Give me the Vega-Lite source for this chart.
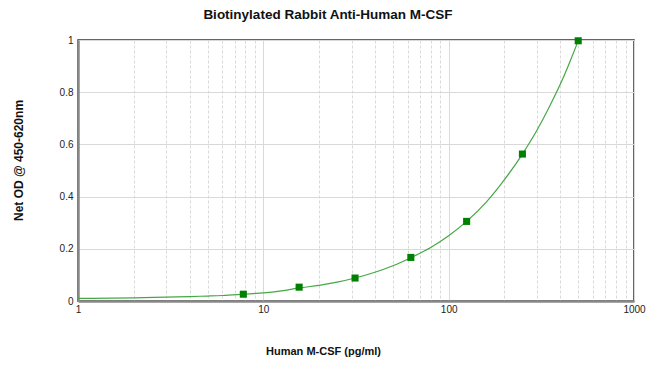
{
  "$schema": "https://vega.github.io/schema/vega-lite/v6.json",
  "autosize": {"type": "none"},
  "padding": {"left": 78, "top": 40, "right": 16, "bottom": 67},
  "width": 556,
  "height": 261,
  "background": "white",
  "title": {
    "text": "Biotinylated Rabbit Anti-Human M-CSF",
    "font": "Liberation Sans",
    "fontSize": 13.5,
    "fontWeight": "bold",
    "color": "#111",
    "anchor": "middle",
    "frame": "group",
    "dx": -28,
    "offset": 14
  },
  "config": {
    "view": {"stroke": "#333", "strokeWidth": 1.5},
    "axis": {
      "labelFont": "Liberation Sans",
      "labelFontSize": 10,
      "labelColor": "#222",
      "titleFont": "Liberation Sans",
      "titleFontSize": 11,
      "titleFontWeight": "bold",
      "titleColor": "#111",
      "domainColor": "#888",
      "domainWidth": 2.5,
      "ticks": false,
      "gridColor": "#d9d9d9",
      "gridWidth": 1
    }
  },
  "datasets": {
    "curve": [
      {"conc": 1, "od": 0.010},
      {"conc": 1.5, "od": 0.011},
      {"conc": 2, "od": 0.012},
      {"conc": 3, "od": 0.015},
      {"conc": 4, "od": 0.017},
      {"conc": 5, "od": 0.019},
      {"conc": 6, "od": 0.021},
      {"conc": 7.8, "od": 0.026},
      {"conc": 10, "od": 0.031},
      {"conc": 12.5, "od": 0.039},
      {"conc": 15.6, "od": 0.050},
      {"conc": 20, "od": 0.060},
      {"conc": 25, "od": 0.072},
      {"conc": 31.25, "od": 0.088},
      {"conc": 40, "od": 0.110},
      {"conc": 50, "od": 0.135},
      {"conc": 62.5, "od": 0.166},
      {"conc": 80, "od": 0.205},
      {"conc": 100, "od": 0.250},
      {"conc": 125, "od": 0.305},
      {"conc": 160, "od": 0.380},
      {"conc": 200, "od": 0.465},
      {"conc": 250, "od": 0.563},
      {"conc": 300, "od": 0.655},
      {"conc": 350, "od": 0.745},
      {"conc": 400, "od": 0.830},
      {"conc": 450, "od": 0.915},
      {"conc": 500, "od": 0.997}
    ],
    "points": [
      {"conc": 7.8, "od": 0.026},
      {"conc": 15.6, "od": 0.053},
      {"conc": 31.25, "od": 0.088},
      {"conc": 62.5, "od": 0.167},
      {"conc": 125, "od": 0.305},
      {"conc": 250, "od": 0.563},
      {"conc": 500, "od": 0.997}
    ]
  },
  "layer": [
    {
      "data": {"name": "curve"},
      "mark": {"type": "line", "color": "#45a845", "strokeWidth": 1.2, "interpolate": "monotone", "clip": true},
      "encoding": {
        "x": {
          "field": "conc",
          "type": "quantitative",
          "scale": {"type": "log", "domain": [1, 1000], "nice": false},
          "axis": {
            "title": "Human M-CSF (pg/ml)",
            "titleX": 245,
            "titleY": 50,
            "titleBaseline": "middle",
            "titleAnchor": null,
            "values": [1,2,3,4,5,6,7,8,9,10,20,30,40,50,60,70,80,90,100,200,300,400,500,600,700,800,900,1000],
            "format": "~g",
            "labelExpr": "indexof([1,10,100,1000], datum.value) >= 0 ? datum.label : ''",
            "labelFlush": false,
            "labelPadding": 3,
            "labelOverlap": false,
            "grid": true,
            "gridDash": {"condition": {"test": "indexof([1,10,100,1000], datum.value) >= 0", "value": []}, "value": [3, 2]}
          }
        },
        "y": {
          "field": "od",
          "type": "quantitative",
          "scale": {"domain": [0, 1], "nice": false},
          "axis": {
            "title": "Net OD @ 450-620nm",
            "titleFontSize": 12,
            "titleX": -60,
            "titleY": 120,
            "titleAngle": -90,
            "titleAlign": "center",
            "titleBaseline": "middle",
            "values": [0, 0.2, 0.4, 0.6, 0.8, 1],
            "format": "~g",
            "labelPadding": 5,
            "grid": true
          }
        }
      }
    },
    {
      "data": {"name": "points"},
      "mark": {"type": "square", "color": "#008000", "opacity": 1, "size": 50, "filled": true},
      "encoding": {
        "x": {"field": "conc", "type": "quantitative"},
        "y": {"field": "od", "type": "quantitative"}
      }
    }
  ]
}
